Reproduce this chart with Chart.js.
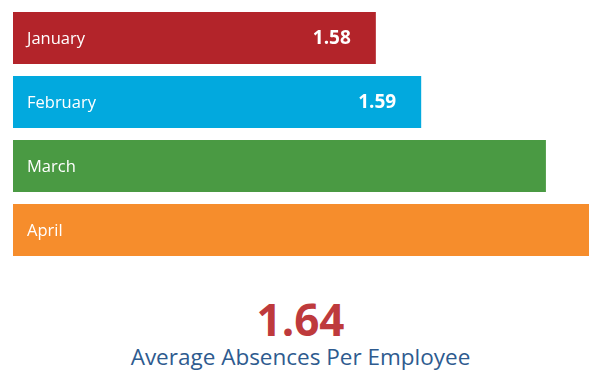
<!DOCTYPE html>
<html>
<head>
<meta charset="utf-8">
<script src="https://cdn.jsdelivr.net/npm/chart.js@4/dist/chart.umd.min.js"></script>
<style>
  body { margin: 0; background: #fff; font-family: "Open Sans", sans-serif; }
  #wrap { position: relative; width: 601px; height: 392px; }
  #chartBox { position: absolute; left: 0; top: 0; width: 601px; height: 270px; }
  .big { position: absolute; left: 0; top: 297px; width: 601px; text-align: center;
         font-size: 44px; font-weight: 700; line-height: 1; color: #BE3A3C; }
  .sub { position: absolute; left: 0; top: 346px; width: 601px; text-align: center;
         font-size: 22.5px; line-height: 1; color: #2E5B8F; }
</style>
</head>
<body>
<div id="wrap">
  <div id="chartBox"><canvas id="myChart"></canvas></div>
  <div class="big" id="promedio"></div>
  <div class="sub" id="subtitulo"></div>
</div>
<script>
// datos
const meses = ['January', 'February', 'March', 'April'];
const ausencias = [1.58, 1.59, 1.6175, 1.627];
const etiquetasValor = ['1.58', '1.59', '', ''];
const colores = ['#B3242A', '#02A9DE', '#4A9A43', '#F68D2C'];
const promedio = '1.64';
const subtitulo = 'Average Absences Per Employee';

document.getElementById('promedio').textContent = promedio;
document.getElementById('subtitulo').textContent = subtitulo;

// etiquetas dentro de las barras
const etiquetasBarras = {
    id: 'etiquetasBarras',
    afterDatasetsDraw(chart) {
        const ctx = chart.ctx;
        const meta = chart.getDatasetMeta(0);
        const izq = chart.chartArea.left;
        ctx.save();
        ctx.fillStyle = '#fff';
        ctx.textBaseline = 'middle';
        meta.data.forEach((bar, i) => {
            ctx.font = '16.5px "Open Sans"';
            ctx.textAlign = 'left';
            ctx.fillText(meses[i], izq + 14, bar.y + 1);
            if (etiquetasValor[i]) {
                ctx.font = 'bold 19px "Open Sans"';
                ctx.textAlign = 'right';
                ctx.fillText(etiquetasValor[i], bar.x - 25, bar.y + 1);
            }
        });
        ctx.restore();
    }
};

var ctx = document.getElementById('myChart').getContext('2d');
window.myChart = new Chart(ctx, {
    type: 'bar',
    data: {
        labels: meses,
        datasets: [{
            data: ausencias,
            backgroundColor: colores,
            borderWidth: 0,
            barPercentage: 0.8125,
            categoryPercentage: 1
        }]
    },
    options: {
        indexAxis: 'y',
        responsive: true,
        maintainAspectRatio: false,
        animation: false,
        layout: { padding: { left: 13, right: 12, top: 6, bottom: 8 } },
        plugins: { legend: { display: false }, tooltip: { enabled: false } },
        scales: {
            x: { display: false, min: 1.5, max: 1.627 },
            y: { display: false }
        }
    },
    plugins: [etiquetasBarras]
});
</script>
</body>
</html>
